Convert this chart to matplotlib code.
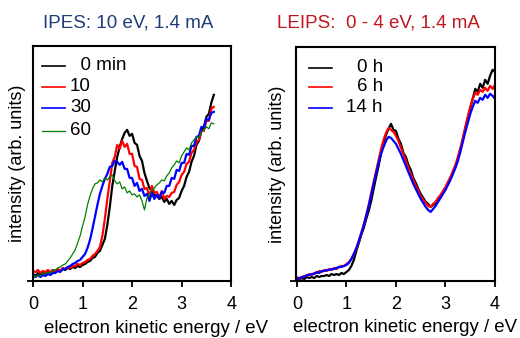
import numpy as np
import matplotlib
matplotlib.use("Agg")
import matplotlib.pyplot as plt

plt.rcParams['font.family'] = ['Liberation Sans', 'DejaVu Sans']

# ---- IPES panel (10 eV, 1.4 mA), energy grid 0 .. 3.65 eV ----
e_ipes = np.round(np.arange(0, 3.651, 0.05), 2)

ipes_0min = [7, 5, 8, 6, 9, 7, 10, 8, 11, 9, 11, 10, 12, 11, 13, 12, 14, 13, 15, 14,
             16, 17, 19, 20, 23, 24, 28, 30, 36, 42, 56, 74, 95, 110, 124, 134, 142, 148, 151, 145,
             147, 138, 136, 125, 120, 108, 100, 93, 90, 86, 85, 82, 84, 79, 82, 77, 80, 76, 81, 83,
             90, 95, 104, 109, 119, 125, 136, 140, 150, 154, 164, 167, 178, 186]
ipes_10min = [10, 9, 11, 8, 10, 9, 11, 9, 11, 10, 12, 10, 13, 12, 14, 13, 15, 15, 17, 16,
              18, 19, 21, 22, 25, 27, 30, 34, 45, 62, 82, 100, 118, 124, 136, 132, 140, 134, 137, 127,
              127, 115, 114, 102, 101, 92, 93, 84, 95, 88, 89, 83, 90, 82, 85, 84, 88, 89, 96, 99,
              106, 109, 117, 119, 128, 131, 139, 141, 150, 150, 160, 160, 172, 174]
ipes_30min = [5, 4, 6, 4, 6, 5, 7, 6, 8, 8, 10, 9, 12, 12, 14, 15, 17, 18, 20, 21,
              24, 27, 33, 41, 52, 64, 76, 87, 95, 102, 107, 114, 115, 120, 119, 116, 119, 112, 112, 103,
              103, 95, 98, 90, 92, 85, 87, 80, 88, 82, 86, 83, 89, 88, 95, 95, 103, 102, 111, 110,
              118, 118, 127, 126, 135, 135, 144, 145, 154, 153, 162, 161, 168, 169]
ipes_60min = [6, 4, 6, 5, 8, 7, 9, 8, 11, 11, 13, 14, 16, 17, 20, 23, 27, 31, 38, 45,
              55, 64, 76, 85, 92, 97, 98, 101, 99, 103, 101, 104, 106, 100, 97, 99, 92, 94, 88, 90,
              86, 87, 84, 86, 80, 71, 83, 86, 91, 93, 96, 98, 101, 100, 105, 108, 113, 116, 120, 118,
              125, 129, 133, 131, 138, 141, 144, 143, 149, 151, 154, 152, 158, 157]

# ---- LEIPS panel (0 - 4 eV, 1.4 mA), energy grid 0 .. 4.0 eV ----
e_leips = np.round(np.arange(0, 4.001, 0.05), 2)

leips_0h = [2, 1, 3, 2, 4, 3, 4, 3, 5, 4, 5, 5, 6, 5, 7, 6, 7, 6, 8, 7,
            9, 11, 15, 21, 30, 38, 46, 53, 62, 70, 80, 92, 104, 115, 128, 138, 146, 152, 157, 151,
            150, 142, 137, 128, 124, 116, 111, 103, 98, 92, 87, 83, 79, 77, 74, 76, 78, 82, 85, 89,
            93, 97, 102, 108, 114, 122, 131, 141, 152, 163, 173, 182, 192, 189, 197, 193, 201, 197, 205, 211,
            209]
leips_6h = [4, 2, 4, 5, 5, 7, 6, 8, 8, 10, 9, 11, 10, 12, 11, 13, 12, 14, 15, 15,
            17, 19, 22, 27, 32, 40, 47, 56, 66, 76, 88, 99, 110, 121, 132, 141, 148, 153, 151, 149,
            145, 140, 133, 127, 120, 113, 107, 101, 95, 90, 85, 81, 78, 75, 74, 77, 79, 83, 86, 90,
            94, 99, 104, 110, 116, 124, 133, 143, 154, 164, 174, 182, 188, 186, 191, 189, 193, 190, 195, 192,
            196]
leips_14h = [1, 3, 4, 4, 6, 6, 7, 7, 9, 8, 10, 10, 11, 11, 12, 12, 13, 14, 14, 15,
             16, 18, 22, 27, 33, 40, 48, 56, 65, 75, 86, 97, 108, 118, 127, 134, 140, 144, 143, 140,
             137, 132, 127, 121, 115, 109, 103, 97, 92, 87, 82, 78, 74, 71, 69, 72, 75, 79, 83, 87,
             91, 96, 101, 107, 113, 120, 129, 139, 149, 158, 167, 174, 180, 178, 183, 181, 186, 183, 187, 185,
             182]

ipes_labels = ['  0 min', '10', '30', '60']
leips_labels = ['0 h', '6 h', '14 h']


def style_axes(ax, ymax, xlab_x, ylab_x):
    ax.set_xlim(0, 4)
    ax.set_ylim(0, ymax)
    ax.set_xticks([0, 1, 2, 3, 4])
    ax.set_yticks([0])
    ax.set_yticklabels([''])
    ax.tick_params(direction='out', length=4, width=1.3, labelsize=13, pad=7)
    for s in ax.spines.values():
        s.set_linewidth(1.5)
    ax.set_xlabel('electron kinetic energy / eV', fontsize=13.4)
    ax.set_ylabel('intensity (arb. units)', fontsize=13)
    ax.xaxis.label.set_va('center')
    ax.yaxis.label.set_va('center')
    ax.xaxis.set_label_coords(xlab_x, -0.2)
    ax.yaxis.set_label_coords(ylab_x, 0.5)


fig = plt.figure(figsize=(5.2, 3.38), dpi=100)
ax1 = fig.add_axes([0.0635, 0.1686, 0.381, 0.696])
ax2 = fig.add_axes([0.569, 0.1686, 0.383, 0.693])

# left panel
ax1.plot(e_ipes, ipes_0min, color='black', lw=1.6)
ax1.plot(e_ipes, ipes_10min, color='red', lw=1.6)
ax1.plot(e_ipes, ipes_30min, color='blue', lw=1.6)
ax1.plot(e_ipes, ipes_60min, color='green', lw=0.9)
style_axes(ax1, 235, 0.619, -0.078)

leg_y = [0.915, 0.826, 0.736, 0.638]
for lab, c, yy, w in zip(ipes_labels, ['black', 'red', 'blue', 'green'], leg_y, [1.2, 1.2, 1.2, 0.9]):
    ax1.plot([0.045, 0.16], [yy, yy], color=c, lw=w, transform=ax1.transAxes)
    ax1.text(0.187, yy, lab, transform=ax1.transAxes, fontsize=13.5, va='center', ha='left')

# right panel
ax2.plot(e_leips, leips_0h, color='black', lw=1.6)
ax2.plot(e_leips, leips_6h, color='red', lw=1.6)
ax2.plot(e_leips, leips_14h, color='blue', lw=1.6)
style_axes(ax2, 234, 0.55, -0.093)
ax2.set_xlim(-0.02, 4)

leg_y2 = [0.910, 0.829, 0.739]
for lab, c, yy in zip(leips_labels, ['black', 'red', 'blue'], leg_y2):
    ax2.plot([0.065, 0.181], [yy, yy], color=c, lw=1.2, transform=ax2.transAxes)
    ax2.text(0.437, yy, lab, transform=ax2.transAxes, fontsize=13.5, va='center', ha='right')

fig.text(0.246, 0.92, 'IPES: 10 eV, 1.4 mA', color='#1f3b7a', fontsize=13.5,
         ha='center', va='baseline')
fig.text(0.728, 0.92, 'LEIPS:  0 - 4 eV, 1.4 mA', color='#c0161e', fontsize=13.5,
         ha='center', va='baseline')

fig.savefig('out.png', dpi=100)
